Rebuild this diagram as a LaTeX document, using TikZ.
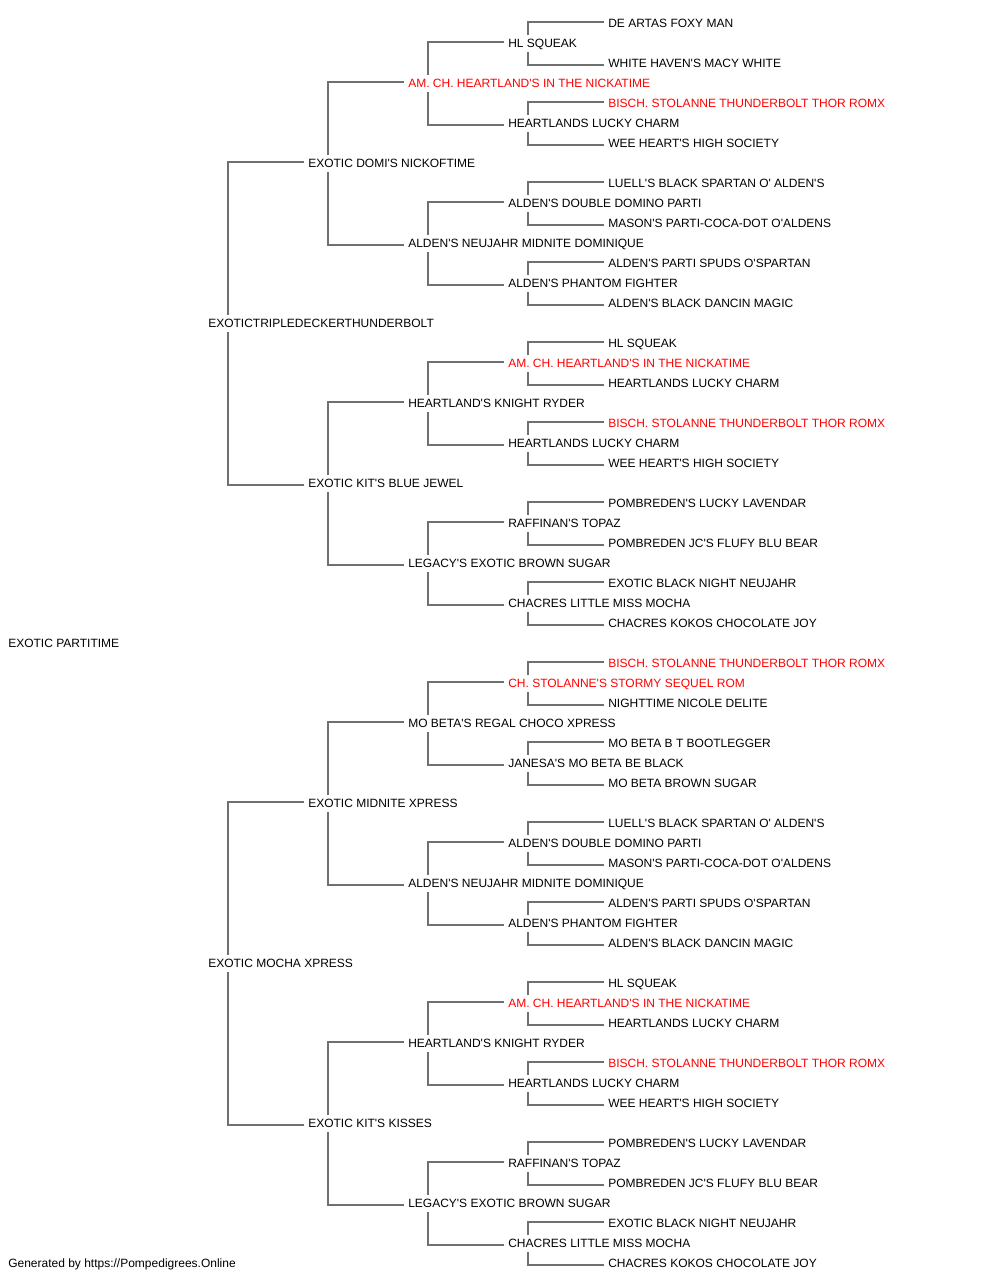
\documentclass[tikz,border=0pt]{standalone}
\usepackage{fontspec}
\setmainfont{Liberation Sans}[Ligatures=TeXOff]
\definecolor{linegray}{RGB}{112,112,112}
\definecolor{redname}{RGB}{255,0,0}
\begin{document}
\begin{tikzpicture}[x=0.75pt,y=-0.75pt,
  nm/.style={anchor=west, inner xsep=3pt, inner ysep=3.2pt, text height=6.45pt, text depth=0pt, font=\fontsize{9pt}{10pt}\selectfont, text=black},
  rd/.style={nm, text=redname},
  conn/.style={draw=linegray, line width=1.5pt}]
\useasboundingbox (0,0) rectangle (1000,1280);
% generation 0
\node[nm] (n0-0) at (4,643.5) {EXOTIC PARTITIME};
% generation 1
\node[nm] (n1-0) at (204,323.5) {EXOTICTRIPLEDECKERTHUNDERBOLT};
\node[nm] (n1-1) at (204,963.5) {EXOTIC MOCHA XPRESS};
% generation 2
\node[nm] (n2-0) at (304,163.5) {EXOTIC DOMI'S NICKOFTIME};
\node[nm] (n2-1) at (304,483.5) {EXOTIC KIT'S BLUE JEWEL};
\node[nm] (n2-2) at (304,803.5) {EXOTIC MIDNITE XPRESS};
\node[nm] (n2-3) at (304,1123.5) {EXOTIC KIT'S KISSES};
% generation 3
\node[rd] (n3-0) at (404,83.5) {AM. CH. HEARTLAND'S IN THE NICKATIME};
\node[nm] (n3-1) at (404,243.5) {ALDEN'S NEUJAHR MIDNITE DOMINIQUE};
\node[nm] (n3-2) at (404,403.5) {HEARTLAND'S KNIGHT RYDER};
\node[nm] (n3-3) at (404,563.5) {LEGACY'S EXOTIC BROWN SUGAR};
\node[nm] (n3-4) at (404,723.5) {MO BETA'S REGAL CHOCO XPRESS};
\node[nm] (n3-5) at (404,883.5) {ALDEN'S NEUJAHR MIDNITE DOMINIQUE};
\node[nm] (n3-6) at (404,1043.5) {HEARTLAND'S KNIGHT RYDER};
\node[nm] (n3-7) at (404,1203.5) {LEGACY'S EXOTIC BROWN SUGAR};
% generation 4
\node[nm] (n4-0) at (504,43.5) {HL SQUEAK};
\node[nm] (n4-1) at (504,123.5) {HEARTLANDS LUCKY CHARM};
\node[nm] (n4-2) at (504,203.5) {ALDEN'S DOUBLE DOMINO PARTI};
\node[nm] (n4-3) at (504,283.5) {ALDEN'S PHANTOM FIGHTER};
\node[rd] (n4-4) at (504,363.5) {AM. CH. HEARTLAND'S IN THE NICKATIME};
\node[nm] (n4-5) at (504,443.5) {HEARTLANDS LUCKY CHARM};
\node[nm] (n4-6) at (504,523.5) {RAFFINAN'S TOPAZ};
\node[nm] (n4-7) at (504,603.5) {CHACRES LITTLE MISS MOCHA};
\node[rd] (n4-8) at (504,683.5) {CH. STOLANNE'S STORMY SEQUEL ROM};
\node[nm] (n4-9) at (504,763.5) {JANESA'S MO BETA BE BLACK};
\node[nm] (n4-10) at (504,843.5) {ALDEN'S DOUBLE DOMINO PARTI};
\node[nm] (n4-11) at (504,923.5) {ALDEN'S PHANTOM FIGHTER};
\node[rd] (n4-12) at (504,1003.5) {AM. CH. HEARTLAND'S IN THE NICKATIME};
\node[nm] (n4-13) at (504,1083.5) {HEARTLANDS LUCKY CHARM};
\node[nm] (n4-14) at (504,1163.5) {RAFFINAN'S TOPAZ};
\node[nm] (n4-15) at (504,1243.5) {CHACRES LITTLE MISS MOCHA};
% generation 5
\node[nm] (n5-0) at (604,23.5) {DE ARTAS FOXY MAN};
\node[nm] (n5-1) at (604,63.5) {WHITE HAVEN'S MACY WHITE};
\node[rd] (n5-2) at (604,103.5) {BISCH. STOLANNE THUNDERBOLT THOR ROMX};
\node[nm] (n5-3) at (604,143.5) {WEE HEART'S HIGH SOCIETY};
\node[nm] (n5-4) at (604,183.5) {LUELL'S BLACK SPARTAN O' ALDEN'S};
\node[nm] (n5-5) at (604,223.5) {MASON'S PARTI-COCA-DOT O'ALDENS};
\node[nm] (n5-6) at (604,263.5) {ALDEN'S PARTI SPUDS O'SPARTAN};
\node[nm] (n5-7) at (604,303.5) {ALDEN'S BLACK DANCIN MAGIC};
\node[nm] (n5-8) at (604,343.5) {HL SQUEAK};
\node[nm] (n5-9) at (604,383.5) {HEARTLANDS LUCKY CHARM};
\node[rd] (n5-10) at (604,423.5) {BISCH. STOLANNE THUNDERBOLT THOR ROMX};
\node[nm] (n5-11) at (604,463.5) {WEE HEART'S HIGH SOCIETY};
\node[nm] (n5-12) at (604,503.5) {POMBREDEN'S LUCKY LAVENDAR};
\node[nm] (n5-13) at (604,543.5) {POMBREDEN JC'S FLUFY BLU BEAR};
\node[nm] (n5-14) at (604,583.5) {EXOTIC BLACK NIGHT NEUJAHR};
\node[nm] (n5-15) at (604,623.5) {CHACRES KOKOS CHOCOLATE JOY};
\node[rd] (n5-16) at (604,663.5) {BISCH. STOLANNE THUNDERBOLT THOR ROMX};
\node[nm] (n5-17) at (604,703.5) {NIGHTTIME NICOLE DELITE};
\node[nm] (n5-18) at (604,743.5) {MO BETA B T BOOTLEGGER};
\node[nm] (n5-19) at (604,783.5) {MO BETA BROWN SUGAR};
\node[nm] (n5-20) at (604,823.5) {LUELL'S BLACK SPARTAN O' ALDEN'S};
\node[nm] (n5-21) at (604,863.5) {MASON'S PARTI-COCA-DOT O'ALDENS};
\node[nm] (n5-22) at (604,903.5) {ALDEN'S PARTI SPUDS O'SPARTAN};
\node[nm] (n5-23) at (604,943.5) {ALDEN'S BLACK DANCIN MAGIC};
\node[nm] (n5-24) at (604,983.5) {HL SQUEAK};
\node[nm] (n5-25) at (604,1023.5) {HEARTLANDS LUCKY CHARM};
\node[rd] (n5-26) at (604,1063.5) {BISCH. STOLANNE THUNDERBOLT THOR ROMX};
\node[nm] (n5-27) at (604,1103.5) {WEE HEART'S HIGH SOCIETY};
\node[nm] (n5-28) at (604,1143.5) {POMBREDEN'S LUCKY LAVENDAR};
\node[nm] (n5-29) at (604,1183.5) {POMBREDEN JC'S FLUFY BLU BEAR};
\node[nm] (n5-30) at (604,1223.5) {EXOTIC BLACK NIGHT NEUJAHR};
\node[nm] (n5-31) at (604,1263.5) {CHACRES KOKOS CHOCOLATE JOY};
% footer
\node[nm] (footer) at (4,1263.5) {Generated by https://Pompedigrees.Online};
% connectors: parent -> sire (above) and dam (below)
\foreach \g/\n in {1/1,2/3,3/7,4/15} {
  \foreach \i in {0,...,\n} {
    \pgfmathtruncatemacro\ng{\g+1}
    \pgfmathtruncatemacro\s{2*\i}
    \pgfmathtruncatemacro\d{2*\i+1}
    \draw[conn] ([yshift=1.125pt]n\ng-\s.west) -| ([xshift=18pt]n\g-\i.north west);
    \draw[conn] ([yshift=-1.125pt]n\ng-\d.west) -| ([xshift=18pt]n\g-\i.south west);
  }
}
\end{tikzpicture}
\end{document}
